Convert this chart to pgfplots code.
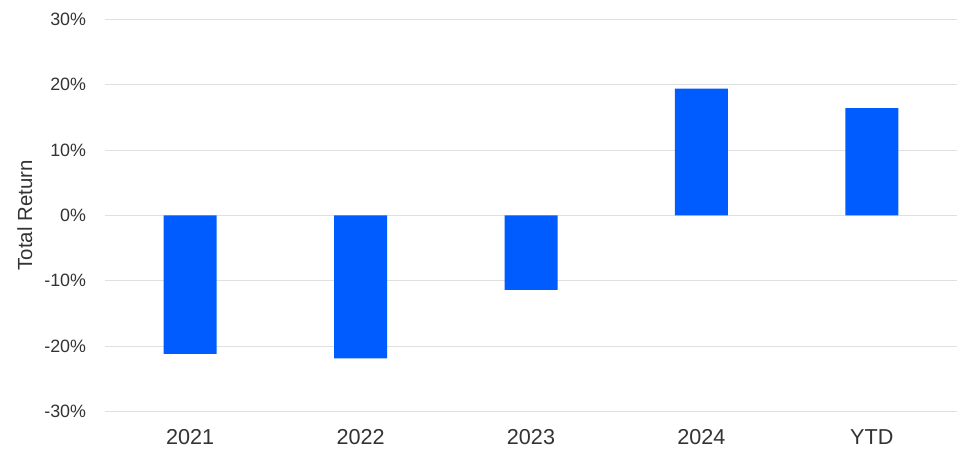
\documentclass[border=0pt]{standalone}
\usepackage{fontspec}
\setmainfont{Liberation Sans}
\usepackage{pgfplots}
\pgfplotsset{compat=1.18}
\definecolor{barblue}{HTML}{005CFF}
\definecolor{gridgray}{HTML}{E0E0E0}
\definecolor{txt}{HTML}{333333}
\begin{document}
\begin{tikzpicture}
\useasboundingbox (-78.75pt,-38pt) rectangle (646.5pt,308.5pt);
\begin{axis}[
  at={(0pt,0pt)}, anchor=south west,
  scale only axis, width=639pt, height=294pt,
  xmin=-0.5, xmax=4.5, ymin=-30, ymax=30,
  axis line style={draw=none},
  xtick={0,1,2,3,4},
  xticklabels={2021,2022,2023,2024,YTD},
  ytick={-30,-20,-10,0,10,20,30},
  yticklabels={-30\%,-20\%,-10\%,0\%,10\%,20\%,30\%},
  major tick length=0pt,
  ymajorgrids, grid style={gridgray, line width=0.75pt},
  yticklabel style={font=\fontsize{13.4}{15}\selectfont, text=txt, inner sep=0pt, anchor=east, xshift=-14pt},
  xticklabel style={font=\fontsize{16.2}{18}\selectfont, text=txt, inner sep=0pt, anchor=north, yshift=-13.5pt},
  ylabel={Total Return},
  ylabel style={font=\fontsize{15.3}{17}\selectfont, text=txt, at={(axis description cs:-0.094,0.5)}, anchor=center},
]
\addplot[ybar, bar width=39.75pt, fill=barblue, draw=none] coordinates {(0,-21.2) (1,-21.9) (2,-11.4) (3,19.4) (4,16.4)};
\end{axis}
\end{tikzpicture}
\end{document}
